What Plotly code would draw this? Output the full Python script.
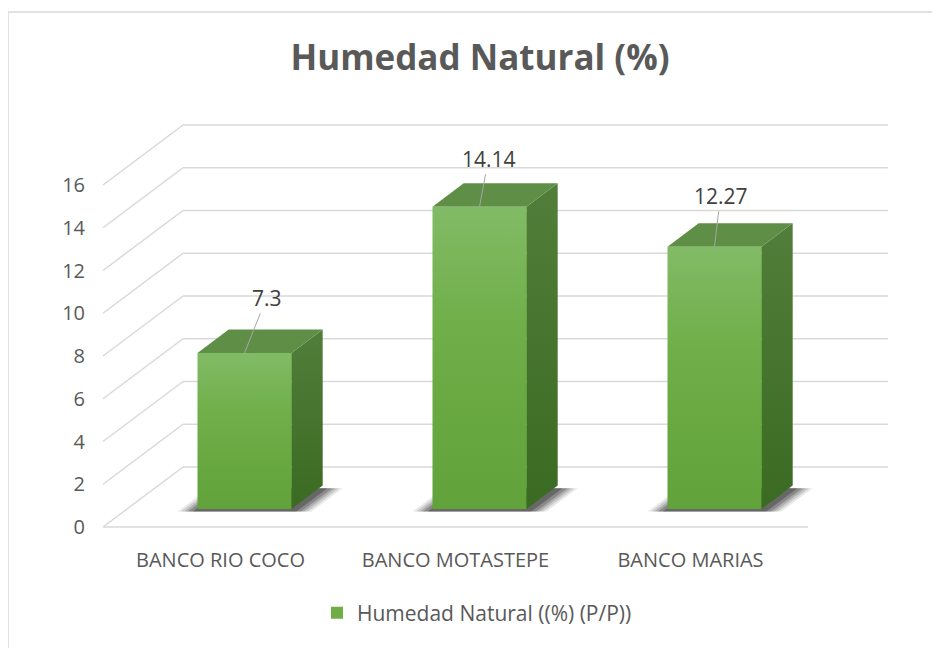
import plotly.graph_objects as go

# datos del grafico
categorias = ['BANCO RIO COCO', 'BANCO MOTASTEPE', 'BANCO MARIAS']
humedad = [7.3, 14.14, 12.27]
y_ticks = [0, 2, 4, 6, 8, 10, 12, 14, 16]
serie = 'Humedad Natural ((%) (P/P))'
titulo = 'Humedad Natural (%)'

# geometria de la vista 3D (pixeles de la figura)
W, H = 940, 648
L, R, T, B = 82, 15, 100, 114
X0_PX, CAT_PX = 95, 235        # borde frontal del piso
Y0_PX, UNIT_PX = 519, 21.375   # valor 0 en el frente, px por unidad
DX = 80 / CAT_PX               # desplazamiento de profundidad en x (categorias)
DY = 60 / UNIT_PX              # desplazamiento de profundidad en y (valor)
D0, DD = 0.30, 0.39            # posicion y grosor de la barra en profundidad
ANCHO = 0.4

TXT = '#595959'
GRID = '#d9d9d9'
FONT = 'Open Sans'

x_rng = [(L - X0_PX) / CAT_PX, (W - R - X0_PX) / CAT_PX]
y_rng = [(Y0_PX - (H - B)) / UNIT_PX, (Y0_PX - T) / UNIT_PX]

fig = go.Figure()

# barra real (cara frontal)
centros = [i + 0.5 + D0 * DX for i in range(len(categorias))]
base = D0 * DY
fig.add_trace(go.Bar(
    x=centros, y=humedad, base=base, width=ANCHO,
    marker=dict(color='#70ad47', line=dict(width=0)),
    name=serie, showlegend=True, hoverinfo='skip'
))

# lineas de cuadricula en perspectiva
gx, gy = [], []
for k in y_ticks:
    gx += [DX, len(categorias) + DX, None, 0, DX, None]
    gy += [k + DY, k + DY, None, k, k + DY, None]
gx += [0, len(categorias), None]
gy += [0, 0, None]
fig.add_trace(go.Scatter(x=gx, y=gy, mode='lines', line=dict(color=GRID, width=1.5),
                         showlegend=False, hoverinfo='skip'))

for c, v in zip(centros, humedad):
    xl, xr = c - ANCHO / 2, c + ANCHO / 2
    ox, oy = DD * DX, DD * DY

    # sombra difusa en el piso
    for e, a in [(0.085, 0.10), (0.07, 0.14), (0.055, 0.18), (0.04, 0.24), (0.02, 0.32)]:
        sy = base - 0.12
        fig.add_trace(go.Scatter(
            x=[xl - e, xr + e, xr + ox + e, xl + ox - e, xl - e],
            y=[sy, sy, sy + oy, sy + oy, sy],
            fill='toself', mode='lines', line=dict(width=0),
            fillcolor='rgba(30,30,30,%.2f)' % a, showlegend=False, hoverinfo='skip'
        ))

    # cara lateral
    fig.add_trace(go.Scatter(
        x=[xr, xr, xr + ox, xr + ox, xr],
        y=[base, v + base, v + base + oy, base + oy, base],
        fill='toself', mode='lines', line=dict(width=0),
        fillgradient=dict(type='vertical', colorscale=[[0, '#3b6a22'], [1, '#517f3b']]),
        showlegend=False, hoverinfo='skip'
    ))
    # cara superior
    fig.add_trace(go.Scatter(
        x=[xl, xr, xr + ox, xl + ox, xl],
        y=[v + base, v + base, v + base + oy, v + base + oy, v + base],
        fill='toself', mode='lines', line=dict(width=0),
        fillcolor='#5f8e47', showlegend=False, hoverinfo='skip'
    ))
    # cara frontal con degradado
    fig.add_trace(go.Scatter(
        x=[xl, xr, xr, xl, xl],
        y=[base, base, v + base, v + base, base],
        fill='toself', mode='lines', line=dict(width=0),
        fillgradient=dict(type='vertical', colorscale=[[0, '#62a23a'], [0.6, '#6fae48'], [1, '#82bb66']]),
        showlegend=False, hoverinfo='skip'
    ))

# etiquetas de datos con linea guia
desfases = [(22, -55), (9, -48), (6, -51)]
for c, v, (ax, ay) in zip(centros, humedad, desfases):
    fig.add_annotation(
        x=c, y=v + base, text=f'{v:g}', showarrow=True, arrowhead=0,
        arrowwidth=1, arrowcolor='#a6a6a6', ax=ax, ay=ay, standoff=0,
        font=dict(family=FONT, size=21, color='#404040')
    )

# borde del area del grafico
pw, ph = W - L - R, H - T - B
fig.add_shape(type='rect', xref='paper', yref='paper',
              x0=(0 - L) / pw, x1=(W + 10 - L) / pw,
              y0=(H - B - (H + 10)) / ph, y1=(H - B - 4) / ph,
              line=dict(color=GRID, width=1.5), fillcolor='rgba(0,0,0,0)')

fig.update_layout(
    width=W, height=H,
    margin=dict(l=L, r=R, t=T, b=B),
    paper_bgcolor='white', plot_bgcolor='white',
    font=dict(family=FONT, color=TXT),
    title=dict(text=f'<b>{titulo}</b>', x=472 / W, xanchor='center',
               y=1 - 50 / H, yanchor='middle',
               font=dict(family=FONT, size=35, color=TXT)),
    xaxis=dict(range=x_rng, showgrid=False, zeroline=False, showline=False,
               tickvals=[i + 0.5 for i in range(len(categorias))], ticktext=categorias,
               ticks='', ticklabelstandoff=4,
               tickfont=dict(family=FONT, size=20, color=TXT), fixedrange=True),
    yaxis=dict(range=y_rng, showgrid=False, zeroline=False, showline=False,
               tickvals=y_ticks, ticks='', ticklabelstandoff=4,
               tickfont=dict(family=FONT, size=20, color=TXT), fixedrange=True),
    legend=dict(orientation='h', x=(469 - L) / pw, xanchor='center',
                y=(H - B - 605) / ph, yanchor='middle',
                font=dict(family=FONT, size=21, color=TXT)),
    bargap=0,
)

fig.write_html('out.html')
